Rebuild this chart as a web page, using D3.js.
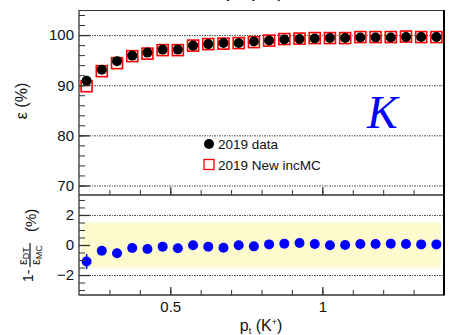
<!DOCTYPE html>
<html><head><meta charset="utf-8">
<script src="https://cdn.jsdelivr.net/npm/d3@7"></script>
<style>body{margin:0;background:#fff}svg{display:block}text{font-family:"Liberation Sans",Arial,sans-serif}</style>
</head><body><svg id="c" width="454" height="335"></svg>
<script>
const pt = [0.225,0.275,0.325,0.375,0.425,0.475,0.525,0.575,0.625,0.675,0.725,0.775,0.825,0.875,0.925,0.975,1.025,1.075,1.125,1.175,1.225,1.275,1.325,1.375];
const effData = [90.9,93.1,94.8,95.9,96.5,97.1,97.1,97.9,98.2,98.4,98.4,98.7,98.9,99.1,99.2,99.3,99.4,99.4,99.5,99.5,99.5,99.6,99.6,99.6];
const effMC = [89.8,92.8,94.4,95.8,96.3,97.0,97.0,97.9,98.2,98.3,98.4,98.6,98.9,99.2,99.3,99.4,99.4,99.4,99.6,99.6,99.6,99.7,99.6,99.6];
const diff = [-1.1,-0.38,-0.55,-0.2,-0.27,-0.11,-0.22,-0.02,-0.11,-0.18,-0.02,-0.09,0.04,0.09,0.13,0.07,-0.02,0,0.07,0.07,0.09,0.07,0.04,0.04];
const diffErr = [0.5,0.1,0.1,0.08,0.08,0.06,0.06,0.05,0.05,0.05,0.05,0.05,0.05,0.05,0.05,0.05,0.05,0.05,0.05,0.05,0.05,0.05,0.05,0.05];
const topGrid = [70,80,90,100];
const topTicks = [70,80,90,100];
const botGrid = [-2,2];
const botTicks = [-2,0,2];
const xTicks = [0.5,1];
const band = [-1.5,1.5];

const svg = d3.select("#c");
const L=79, R=444, T=10, M=195, B=295;
const x = d3.scaleLinear().domain([0.2,1.4]).range([L,R]);
const yT = d3.scaleLinear().domain([68.1,105]).range([M,T]);
const yB = d3.scaleLinear().domain([-3.33,3.33]).range([B,M]);
const axisCol="#333";

// band
svg.append("rect").attr("x",x(0.209)).attr("width",x(1.39)-x(0.209))
  .attr("y",yB(band[1])).attr("height",yB(band[0])-yB(band[1])).attr("fill","#fdfbcd");

// gridlines
const gl = svg.append("g").attr("stroke","#555").attr("stroke-width",1).attr("stroke-dasharray","2,1,1,1");
topGrid.forEach(v=>gl.append("line").attr("x1",L).attr("x2",R).attr("y1",yT(v)+0.5).attr("y2",yT(v)+0.5));
botGrid.forEach(v=>gl.append("line").attr("x1",L).attr("x2",R).attr("y1",yB(v)+0.5).attr("y2",yB(v)+0.5));

// top markers
svg.append("g").selectAll("rect").data(pt).join("rect")
  .attr("x",(d)=>x(d)-5.5).attr("y",(d,i)=>yT(effMC[i])-5.5).attr("width",11).attr("height",11)
  .attr("fill","none").attr("stroke","#f00").attr("stroke-width",1.6);
svg.append("g").selectAll("circle").data(pt).join("circle")
  .attr("cx",d=>x(d)).attr("cy",(d,i)=>yT(effData[i])).attr("r",5).attr("fill","#000");

// bottom markers
svg.append("g").selectAll("line").data(pt).join("line")
  .attr("x1",d=>x(d)).attr("x2",d=>x(d)).attr("y1",(d,i)=>yB(diff[i]-diffErr[i])).attr("y2",(d,i)=>yB(diff[i]+diffErr[i]))
  .attr("stroke","#00f").attr("stroke-width",1.5);
svg.append("g").selectAll("circle").data(pt).join("circle")
  .attr("cx",d=>x(d)).attr("cy",(d,i)=>yB(diff[i])).attr("r",5).attr("fill","#00f");

// frame
const fr = svg.append("g").attr("fill","none");
fr.append("line").attr("x1",L).attr("x2",L).attr("y1",T).attr("y2",B).attr("stroke",axisCol).attr("stroke-width",1.3);
fr.append("line").attr("x1",L).attr("x2",R).attr("y1",T+0.5).attr("y2",T+0.5).attr("stroke",axisCol).attr("stroke-width",1);
fr.append("line").attr("x1",L).attr("x2",R+1).attr("y1",M).attr("y2",M).attr("stroke",axisCol).attr("stroke-width",1.5);
fr.append("line").attr("x1",L).attr("x2",R+1).attr("y1",B).attr("y2",B).attr("stroke",axisCol).attr("stroke-width",1.5);
fr.append("line").attr("x1",R).attr("x2",R).attr("y1",T).attr("y2",B).attr("stroke","#000").attr("stroke-width",2);

function yAxis(scale, major, minorStep, lo, hi){
  const g = svg.append("g").attr("transform",`translate(${L},0)`);
  const minor = d3.range(lo, hi+1e-9, minorStep);
  g.call(d3.axisRight(scale).tickValues(minor).tickSize(6).tickFormat(""));
  g.select(".domain").remove();
  g.selectAll(".tick line").attr("stroke",axisCol);
  const g2 = svg.append("g").attr("transform",`translate(${L},0)`);
  g2.call(d3.axisRight(scale).tickValues(major).tickSize(11).tickFormat(d3.format("d")));
  g2.select(".domain").remove();
  g2.selectAll(".tick line").attr("stroke",axisCol).attr("stroke-width",1.3);
  g2.selectAll(".tick text").attr("x",-5).attr("text-anchor","end").attr("font-size",15).attr("fill","#111");
}
yAxis(yT, topTicks, 2, 70, 104);
yAxis(yB, botTicks, 0.5, -3, 3);

function xAxis(y0, labels){
  const g = svg.append("g").attr("transform",`translate(0,${y0})`);
  g.call(d3.axisTop(x).tickValues(d3.range(0.3,1.35,0.1)).tickSize(5).tickFormat(""));
  g.select(".domain").remove();
  g.selectAll(".tick line").attr("stroke",axisCol);
  const g2 = svg.append("g").attr("transform",`translate(0,${y0})`);
  g2.call(d3.axisTop(x).tickValues(xTicks).tickSize(8).tickFormat(labels?(d=>d3.format("")(d)):""));
  g2.select(".domain").remove();
  g2.selectAll(".tick line").attr("stroke",axisCol).attr("stroke-width",1.3);
  if(labels) g2.selectAll(".tick text").attr("y",17).attr("dy","0").attr("font-size",15).attr("fill","#111");
}
xAxis(M,false);
xAxis(B,true);

// titles
const xt = svg.append("text").attr("x",261).attr("y",331).attr("text-anchor","middle").attr("font-size",16).attr("fill","#111");
xt.append("tspan").text("p");
xt.append("tspan").attr("font-size",9).attr("dy",3).text("t");
xt.append("tspan").attr("dy",-3).text(" (K");
xt.append("tspan").attr("font-size",9).attr("dy",-6).text("+");
xt.append("tspan").attr("dy",6).text(")");

const tt = svg.append("text").attr("x",255).attr("y",-4).attr("text-anchor","middle").attr("font-size",22).attr("fill","#111");
tt.append("tspan").text("p");
tt.append("tspan").attr("font-size",13).attr("dy",4).text("t");
tt.append("tspan").attr("dy",-4).text(" (K");
tt.append("tspan").attr("font-size",13).attr("dy",-8).text("+");
tt.append("tspan").attr("dy",8).text(")");

svg.append("text").attr("transform","translate(27,101) rotate(-90)").attr("text-anchor","middle")
  .attr("font-size",16).attr("fill","#111").text("ε (%)");

const yl = svg.append("g").attr("transform","translate(30,245) rotate(-90)").attr("fill","#111");
yl.append("text").attr("x",-37).attr("y",3).attr("font-size",14).text("1-");
yl.append("line").attr("x1",-22).attr("x2",2).attr("y1",0).attr("y2",0).attr("stroke","#111").attr("stroke-width",1.2);
const nu = yl.append("text").attr("x",-20).attr("y",-3).attr("font-size",13);
nu.append("tspan").text("ε");
nu.append("tspan").attr("font-size",9).attr("dy",2).text("DT");
const de = yl.append("text").attr("x",-20).attr("y",10).attr("font-size",13);
de.append("tspan").text("ε");
de.append("tspan").attr("font-size",9).attr("dy",2).text("MC");
yl.append("text").attr("x",13).attr("y",6).attr("font-size",15).text("(%)");

// K label
svg.append("text").attr("x",367).attr("y",128)
  .style("font-family","'Liberation Serif','Times New Roman',serif")
  .style("font-style","italic").attr("font-size",46).attr("fill","#00f").text("K");

// legend
svg.append("circle").attr("cx",209).attr("cy",144).attr("r",5).attr("fill","#000");
svg.append("text").attr("x",218).attr("y",149).attr("font-size",13.5).attr("fill","#111").text("2019 data");
svg.append("rect").attr("x",204).attr("y",159.5).attr("width",10).attr("height",10).attr("fill","none").attr("stroke","#f00").attr("stroke-width",1.3);
svg.append("text").attr("x",218).attr("y",169.5).attr("font-size",13.5).attr("fill","#111").text("2019 New incMC");
</script></body></html>
